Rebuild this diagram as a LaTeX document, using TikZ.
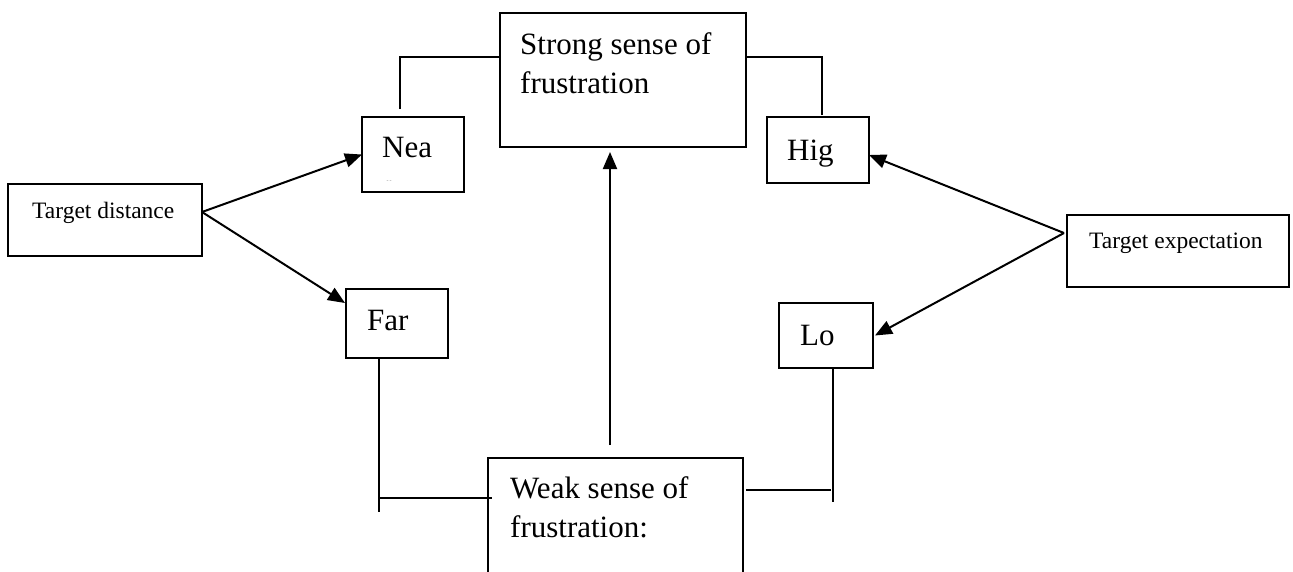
\documentclass[tikz,border=0pt]{standalone}
\usepackage{fontspec}
\setmainfont{Liberation Serif}
\usetikzlibrary{arrows.meta}

\begin{document}
\begin{tikzpicture}[
    x=1pt, y=-1pt,
    box/.style={draw, line width=1.8pt, inner sep=0pt, outer sep=0pt, anchor=north west},
    big/.style={font=\fontsize{31}{39}\selectfont, inner sep=0pt, align=left},
    small/.style={font=\fontsize{23.5}{28}\selectfont, inner sep=0pt},
    arr/.style={-{Triangle[length=17pt,width=14pt]}, line width=2pt},
    link/.style={line width=1.6pt},
]
\useasboundingbox (0,0) rectangle (1293,571);
\clip (0,0) rectangle (1293,571);

% boxes
\node[box, minimum width=246, minimum height=134] (strong) at (500,13) {};
\node[box, minimum width=102, minimum height=75] (nea) at (362,117) {};
\node[box, minimum width=102, minimum height=66] (hig) at (767,117) {};
\node[box, minimum width=194, minimum height=72] (tdist) at (8,184) {};
\node[box, minimum width=222, minimum height=72] (texp) at (1067,215) {};
\node[box, minimum width=102, minimum height=69] (far) at (346,289) {};
\node[box, minimum width=94, minimum height=65] (lo) at (779,303) {};
\node[box, minimum width=255, minimum height=150] (weak) at (488,458) {};

% texts
\node[big, anchor=north west] (strong-t) at ([shift={(20pt,-19pt)}]strong.north west) {Strong sense of\\frustration};
\node[big, anchor=base west] (nea-t) at ([shift={(20pt,-40pt)}]nea.north west) {Nea};
\node[font=\fontsize{6}{6}\selectfont, text=black!45, inner sep=0pt] (nea-cut) at (389,182) {-\,-};
\node[big, anchor=base west] (hig-t) at ([shift={(20pt,-43pt)}]hig.north west) {Hig};
\node[big, anchor=base west] (far-t) at ([shift={(21pt,-41pt)}]far.north west) {Far};
\node[big, anchor=base west] (lo-t) at ([shift={(21pt,-42pt)}]lo.north west) {Lo};
\node[small, anchor=base west] (tdist-t) at ([shift={(24pt,-34pt)}]tdist.north west) {Target distance};
\node[small, anchor=base west] (texp-t) at ([shift={(22pt,-33pt)}]texp.north west) {Target expectation};
\node[big, anchor=north west] (weak-t) at ([shift={(22pt,-18pt)}]weak.north west) {Weak sense of\\frustration:};

% arrows
\draw[arr] ([yshift=8pt]tdist.east) -- (nea.west);
\draw[arr] ([yshift=8pt]tdist.east) -- ([shift={(-1pt,-14pt)}]far.north west);
\draw[arr] ([shift={(-3pt,18pt)}]texp.west) -- ([yshift=-5pt]hig.east);
\draw[arr] ([shift={(-3pt,18pt)}]texp.west) -- ([xshift=2pt]lo.east);
\draw[arr] ([shift={(-5.5pt,13pt)}]weak.north) -- ([shift={(-13pt,-5pt)}]strong.south);

% links
\draw[link] ([shift={(-13pt,8pt)}]nea.north) |- ([yshift=-44pt]strong.north west);
\draw[link] ([shift={(4pt,2pt)}]hig.north) |- ([yshift=-44pt]strong.north east);
\draw[link] ([xshift=-18pt]far.south) -- ++(0,154);
\draw[link] ([shift={(-18pt,-140pt)}]far.south) -- ([shift={(4pt,-40pt)}]weak.north west);
\draw[link] ([xshift=7pt]lo.south) -- ++(0,134);
\draw[link] ([shift={(3pt,-32pt)}]weak.north east) -- ([shift={(5pt,-122pt)}]lo.south);
\end{tikzpicture}
\end{document}
